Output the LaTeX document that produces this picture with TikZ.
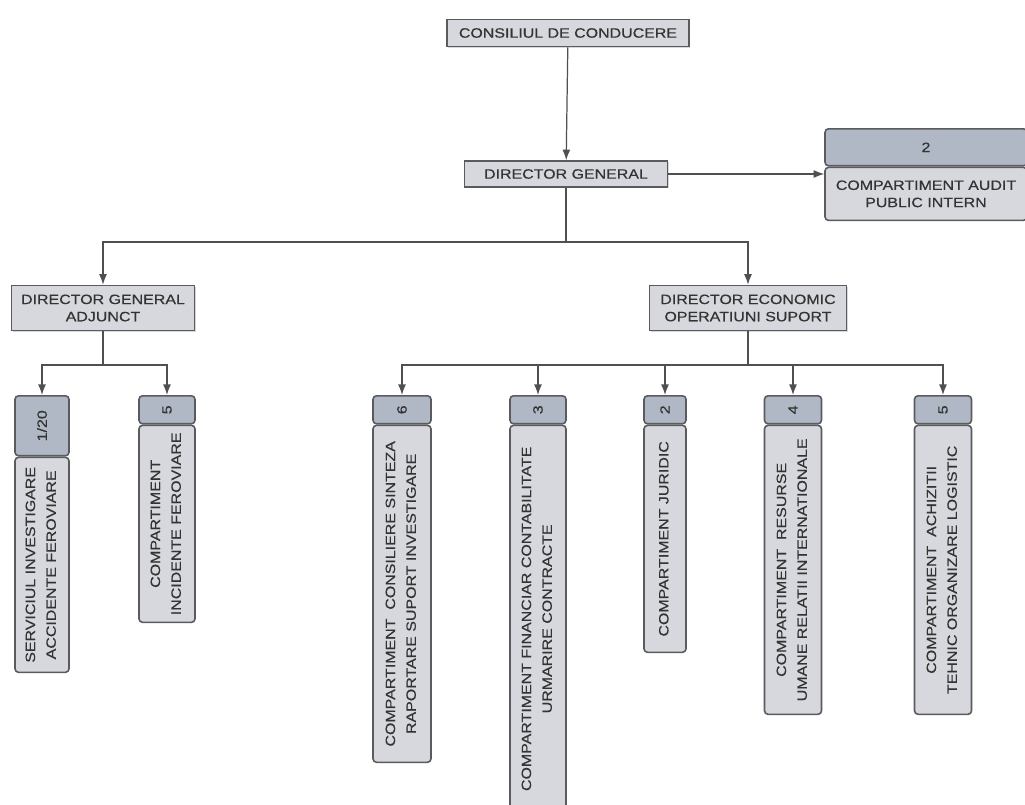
\documentclass[tikz,border=0pt]{standalone}
\usepackage{fontspec}
\newfontfamily\orgfont[FakeStretch=1.18, FakeBold=0.4]{Liberation Sans}
\usetikzlibrary{arrows.meta,shadows}
\definecolor{boxfill}{RGB}{214,216,221}
\definecolor{headfill}{RGB}{176,184,197}
\definecolor{boxline}{RGB}{90,90,95}
\definecolor{linkline}{RGB}{80,80,80}
\tikzset{
	orgtext/.style={font=\orgfont\fontsize{7.7}{9.8}\selectfont, text=black!80},
	topbox/.style={orgtext, draw=boxline, line width=0.9pt, fill=boxfill, align=center, inner sep=1pt,
		drop shadow={shadow xshift=0.7pt, shadow yshift=-0.7pt, fill=gray!60}},
	headbox/.style={orgtext, draw=boxline, line width=0.9pt, fill=headfill, rounded corners=2pt, anchor=north, inner sep=0pt},
	unitbox/.style={orgtext, draw=boxline, line width=0.9pt, fill=boxfill, rounded corners=2pt, anchor=north, inner sep=0pt, align=center},
	link/.style={draw=linkline, line width=0.7pt, -{Latex[length=6pt,width=4.5pt]}}
}
\newcommand{\vtext}[1]{\rotatebox{90}{\begin{tabular}{@{}c@{}}#1\end{tabular}}}
\begin{document}
\begin{tikzpicture}[x=0.02cm, y=-0.02cm]
	\useasboundingbox (0,0) rectangle (1025,805);
	\node[topbox, minimum width=48.4mm, minimum height=5.4mm] (cc) at (568,33) {CONSILIUL DE CONDUCERE};
	\node[topbox, minimum width=40.6mm, minimum height=5.2mm] (dg) at (566,174) {DIRECTOR GENERAL};
	\node[topbox, minimum width=36.6mm, minimum height=9mm] (dga) at (103,308) {DIRECTOR GENERAL\\ADJUNCT};
	\node[topbox, minimum width=39.4mm, minimum height=9mm] (de) at (748,308) {DIRECTOR ECONOMIC\\OPERATIUNI SUPORT};

	\node[headbox, minimum width=40.4mm, minimum height=7.4mm] (audit-nr) at (926,128) {2};
	\node[unitbox, minimum width=40.4mm, minimum height=10.6mm] (audit) at (audit-nr.south) {COMPARTIMENT AUDIT\\PUBLIC INTERN};

	\node[headbox, minimum width=10.8mm, minimum height=12mm] (sia-nr) at (42,395) {\rotatebox{90}{1/20}};
	\node[unitbox, minimum width=10.8mm, minimum height=43mm] (sia) at (sia-nr.south)
		{\vtext{SERVICIUL INVESTIGARE\\[2pt] ACCIDENTE FEROVIARE}};
	\node[headbox, minimum width=11.2mm, minimum height=5.6mm] (cif-nr) at (167,395) {\rotatebox{90}{5}};
	\node[unitbox, minimum width=11.2mm, minimum height=39.4mm] (cif) at (cif-nr.south)
		{\vtext{COMPARTIMENT\\[2pt] INCIDENTE FEROVIARE}};

	\node[headbox, minimum width=11.6mm, minimum height=5.6mm] (ccs-nr) at (402,395) {\rotatebox{90}{6}};
	\node[unitbox, minimum width=11.6mm, minimum height=67.4mm] (ccs) at (ccs-nr.south)
		{\vtext{COMPARTIMENT\ \ CONSILIERE SINTEZA\\[2pt] RAPORTARE SUPORT INVESTIGARE}};
	\node[headbox, minimum width=11.2mm, minimum height=5.6mm] (cfc-nr) at (538,395) {\rotatebox{90}{3}};
	\node[unitbox, minimum width=11.2mm, minimum height=77.4mm] (cfc) at (cfc-nr.south)
		{\vtext{COMPARTIMENT FINANCIAR CONTABILITATE\\[2pt] URMARIRE CONTRACTE}};
	\node[headbox, minimum width=8.4mm, minimum height=5.6mm] (cj-nr) at (665,395) {\rotatebox{90}{2}};
	\node[unitbox, minimum width=8.4mm, minimum height=45.4mm] (cj) at (cj-nr.south)
		{\vtext{COMPARTIMENT JURIDIC}};
	\node[headbox, minimum width=11.4mm, minimum height=5.6mm] (cru-nr) at (793,395) {\rotatebox{90}{4}};
	\node[unitbox, minimum width=11.4mm, minimum height=57.8mm] (cru) at (cru-nr.south)
		{\vtext{COMPARTIMENT\ \ RESURSE\\[2pt] UMANE RELATII INTERNATIONALE}};
	\node[headbox, minimum width=11.4mm, minimum height=5.6mm] (cat-nr) at (943,395) {\rotatebox{90}{5}};
	\node[unitbox, minimum width=11.4mm, minimum height=57.8mm] (cat) at (cat-nr.south)
		{\vtext{COMPARTIMENT\ \ ACHIZITII\\[2pt] TEHNIC ORGANIZARE LOGISTIC}};

	\coordinate (bus-dg) at (566,242);
	\coordinate (bus-dga) at (103,365);
	\coordinate (bus-de) at (748,365);

	\draw[link] (cc) -- (dg);
	\draw[link] (dg.east) -- (dg.east -| audit.west);
	\draw[link, -] (dg) -- (bus-dg);
	\draw[link] (bus-dg) -| (dga);
	\draw[link] (bus-dg) -| (de);
	\draw[link, -] (dga) -- (bus-dga);
	\draw[link] (bus-dga) -| (sia-nr);
	\draw[link] (bus-dga) -| (cif-nr);
	\draw[link, -] (de) -- (bus-de);
	\foreach \u in {ccs-nr, cfc-nr, cj-nr, cru-nr, cat-nr}
		\draw[link] (bus-de) -| (\u);
\end{tikzpicture}
\end{document}
